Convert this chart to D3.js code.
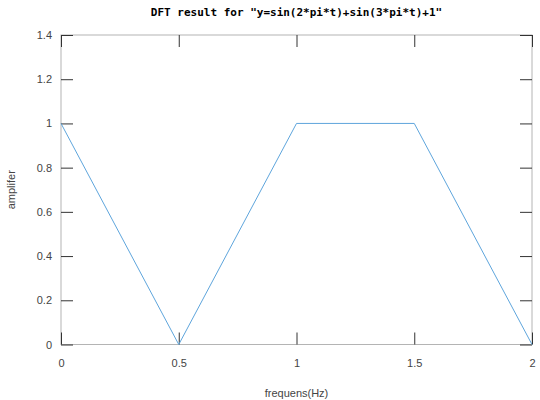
<!DOCTYPE html>
<html>
  <head>
    <meta charset="utf-8">
    <title>DFT result</title>
    <style>
      body { margin: 0; background: #fff; }
    </style>
  </head>
  <body>
    <div id="chart"></div>
    <script src="https://cdn.jsdelivr.net/npm/d3@7/dist/d3.min.js"></script>
    <script>

        var freqs = [0, 0.5, 1, 1.5, 2];
        var amps = [1, 0, 1, 1, 0];
        var xTicks = [0, 0.5, 1, 1.5, 2];
        var yTicks = [0, 0.2, 0.4, 0.6, 0.8, 1, 1.2, 1.4];

        var width = 540;
        var height = 400;
        var margin = {top: 35, right: 8, bottom: 55.5, left: 61};
        var tickLen = 12;

        var svg = d3.select('#chart')
          .append('svg')
          .attr('width', width)
          .attr('height', height);

        var x = d3.scaleLinear()
          .domain([0, 2])
          .range([margin.left, width - margin.right]);
        var y = d3.scaleLinear()
          .domain([0, 1.4])
          .range([height - margin.bottom, margin.top]);

        var fmt = function(d) { return String(d); };

        // box
        svg.append('rect')
          .attr('x', x(0))
          .attr('y', y(1.4))
          .attr('width', x(2) - x(0))
          .attr('height', y(0) - y(1.4))
          .attr('fill', 'none')
          .attr('stroke', '#b4b4b4')
          .attr('stroke-width', 1);

        // inward ticks on all four sides
        var axes = [
          {axis: d3.axisBottom(x), tr: 'translate(0,' + y(0) + ')'},
          {axis: d3.axisTop(x), tr: 'translate(0,' + y(1.4) + ')'},
          {axis: d3.axisLeft(y), tr: 'translate(' + x(0) + ',0)'},
          {axis: d3.axisRight(y), tr: 'translate(' + x(2) + ',0)'}
        ];
        var groups = axes.map(function(a, i) {
          var vals = i < 2 ? xTicks : yTicks;
          var g = svg.append('g')
            .attr('transform', a.tr)
            .call(a.axis.tickValues(vals).tickSizeInner(-tickLen).tickSizeOuter(0)
              .tickFormat(i === 0 || i === 2 ? fmt : ''));
          g.select('.domain').remove();
          g.selectAll('.tick line').attr('stroke', '#333');
          g.selectAll('.tick text')
            .attr('fill', '#444')
            .style('font-family', '"Liberation Sans", Arial, sans-serif')
            .style('font-size', '11px');
          return g;
        });
        groups[0].selectAll('.tick text').attr('dy', null).attr('y', 22);
        groups[2].selectAll('.tick text').attr('x', -9).attr('dy', '0.32em');

        // data line
        var line = d3.line()
          .x(function(d, i) { return x(freqs[i]); })
          .y(function(d) { return y(d); });

        svg.append('path')
          .datum(amps)
          .attr('d', line)
          .attr('fill', 'none')
          .attr('stroke', '#5ea5dc')
          .attr('stroke-width', 1);

        // labels
        svg.append('text')
          .attr('x', (x(0) + x(2)) / 2)
          .attr('y', 16)
          .attr('text-anchor', 'middle')
          .style('font-family', '"DejaVu Sans Mono", monospace')
          .style('font-weight', 'bold')
          .style('font-size', '11px')
          .text('DFT result for "y=sin(2*pi*t)+sin(3*pi*t)+1"');

        svg.append('text')
          .attr('x', (x(0) + x(2)) / 2)
          .attr('y', 397)
          .attr('text-anchor', 'middle')
          .attr('fill', '#444')
          .style('font-family', '"Liberation Sans", Arial, sans-serif')
          .style('font-size', '11px')
          .text('frequens(Hz)');

        svg.append('text')
          .attr('transform', 'translate(15,' + (y(0) + y(1.4)) / 2 + ') rotate(-90)')
          .attr('text-anchor', 'middle')
          .attr('fill', '#444')
          .style('font-family', '"Liberation Sans", Arial, sans-serif')
          .style('font-size', '11px')
          .text('amplifer');
    </script>
  </body>
</html>
